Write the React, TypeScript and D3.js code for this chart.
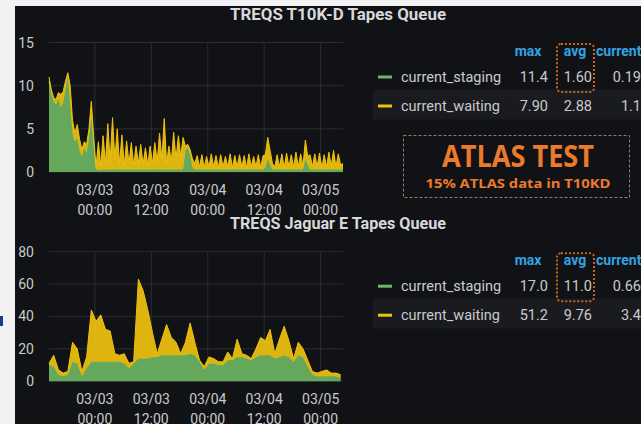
import React from 'react';
import * as d3 from 'd3';

// T10K-D queue, 30 minute samples from 03/02 14:15
const t10kStaging = [
  10.5, 9.0, 8.2, 7.8, 8.5, 7.5, 8.0, 9.5, 11.2, 8.0, 4.5, 3.5, 4.0, 2.5, 1.8, 2.8, 2.2, 4.0, 6.5, 3.0, 0.3,
  0.3, 0.2, 0.3, 0.3, 0.3, 0.3, 0.3, 0.3, 0.3, 0.3, 0.3, 0.3, 0.3, 0.3, 0.3, 0.3, 0.3, 0.3, 0.3, 0.3,
  0.3, 0.3, 0.3, 0.3, 0.3, 0.3, 0.3, 0.3, 0.3, 0.3, 0.3, 0.3, 0.3, 0.3, 0.3, 0.3, 0.3,
  2.5, 2.8, 2.0, 0.5, 0.3,
  0.3, 0.3, 0.3, 0.3, 0.3, 0.3, 0.3, 0.3, 0.3, 0.3, 0.3, 0.3, 0.3, 0.3, 0.3, 0.3, 0.3, 0.3, 0.3, 0.3,
  0.3, 0.3, 0.3, 0.3, 0.3, 0.3, 0.3, 0.3, 0.3,
  0.5, 1.5, 0.8, 0.3,
  0.3, 0.3, 0.3, 0.3, 0.3, 0.3, 0.3, 0.3, 0.3, 0.3, 0.3, 0.3, 0.3,
  1.5, 0.8,
  0.3, 0.3, 0.3, 0.3, 0.3, 0.3, 0.3, 0.3, 0.3, 0.3, 0.3, 0.3, 0.3, 0.3, 0.3,
];
const t10kWaiting = [
  0.5, 0.5, 0.4, 0.6, 0.7, 1.5, 1.3, 1.0, 0.3, 2.0, 1.5, 1.0, 1.5, 1.3, 0.8, 0.7, 1.0, 1.0, 1.7, 1.0, 0.3,
  3.2, 0.5, 3.9, 0.7, 5.3, 0.9, 6.0, 1.2, 4.7, 0.7, 4.0, 0.5, 3.3, 0.7, 3.1, 0.5, 2.7, 0.7, 2.9, 0.6,
  2.5, 0.5, 2.7, 0.7, 3.1, 0.9, 4.2, 1.2, 5.9, 0.7, 2.7, 0.9, 4.3, 1.2, 3.9, 1.5, 3.7,
  0.5, 0.4, 0.6, 1.0, 0.7,
  1.6, 0.3, 1.7, 0.2, 1.5, 0.3, 1.8, 0.3, 1.6, 0.2, 1.7, 0.3, 1.5, 0.3, 1.8, 0.2, 1.6, 0.3, 1.7, 0.3,
  1.6, 0.2, 1.8, 0.3, 1.5, 0.3, 1.7, 0.2, 1.6,
  1.5, 2.5, 1.7, 0.7,
  0.3, 1.7, 0.3, 1.8, 0.2, 1.9, 0.3, 1.7, 0.3, 2.0, 0.3, 1.8, 0.4,
  2.2, 1.0,
  1.7, 0.3, 1.8, 0.3, 1.9, 0.2, 1.7, 0.3, 2.0, 0.4, 2.2, 0.3, 1.8, 0.5, 0.7,
];

// Jaguar E queue, hourly samples from 03/02 14:15
const jaguarStaging = [
  10, 9, 4, 3, 4, 12, 11, 3, 8, 12, 12, 12, 12, 12, 12, 12, 11, 8, 11, 14,
  14, 14, 15, 15, 16, 16, 16, 16, 16, 16, 17, 16, 12, 7, 11, 11, 10, 10, 13, 13,
  15, 15, 14, 13, 15, 16, 16, 16, 14, 15, 16, 15, 12, 16, 15, 9, 4, 3, 3, 3,
  3, 3, 2,
];
const jaguarWaiting = [
  1, 7, 3, 2, 2, 12, 9, 3, 7, 32, 25, 29, 20, 19, 5, 4, 6, 3, 1, 49,
  42, 30, 15, 2, 10, 19, 11, 8, 1, 8, 19, 8, 1, 2, 4, 3, 2, 2, 5, 1,
  11, 2, 2, 1, 5, 11, 9, 16, 3, 11, 18, 10, 2, 8, 5, 4, 2, 2, 3, 4,
  2, 2, 2,
];

const tickTimes = ['2021-03-03T00:00', '2021-03-03T12:00', '2021-03-04T00:00', '2021-03-04T12:00', '2021-03-05T00:00'];
const t10kTicks = [0, 5, 10, 15];
const jaguarTicks = [0, 20, 40, 60, 80];

const t10kLegend = [
  { name: 'current_staging', max: '11.4', avg: '1.60', current: '0.19' },
  { name: 'current_waiting', max: '7.90', avg: '2.88', current: '1.1' },
];
const jaguarLegend = [
  { name: 'current_staging', max: '17.0', avg: '11.0', current: '0.66' },
  { name: 'current_waiting', max: '51.2', avg: '9.76', current: '3.4' },
];

const GREEN = '#6db562';
const YELLOW = '#f0c20e';
const TEXT = '#c9cacc';
const GRID = '#2b2d31';
const start = new Date('2021-03-02T14:15');
const end = new Date('2021-03-05T04:45');

function Panel({ title, top, staging, waiting, stepMin, yMax, ticks, legend }: any) {
  const x = d3.scaleTime().domain([start, end]).range([49, 343]);
  const y = d3.scaleLinear().domain([0, yMax]).range([top + 129.5, top]);
  const rows = staging.map((s: number, i: number) => ({
    t: new Date(start.getTime() + i * stepMin * 60000),
    staging: s,
    waiting: waiting[i],
  }));
  const stack = d3.stack<any>().keys(['staging', 'waiting'])(rows);
  const area = d3.area<any>()
    .x((d) => x(d.data.t))
    .y0((d) => y(d[0]))
    .y1((d) => y(d[1]));
  const line = d3.line<any>()
    .x((d) => x(d.data.t))
    .y((d) => y(d[1]));
  const colors = [GREEN, YELLOW];
  const fmtDay = d3.timeFormat('%m/%d');
  const fmtHour = d3.timeFormat('%H:%M');
  const base = y(0);

  return (
    <g>
      <text x={338} y={top - 23} textAnchor="middle" fill="#d8d9da" fontSize={16} fontWeight={700}
        textLength={216} lengthAdjust="spacingAndGlyphs">
        {title}
      </text>
      {ticks.map((v: number) => (
        <g key={v}>
          <line x1={49} x2={343} y1={y(v)} y2={y(v)} stroke={GRID} />
          <text x={34} y={y(v)} dy="0.36em" textAnchor="end" fill={TEXT} fontSize={14}>{v}</text>
        </g>
      ))}
      {tickTimes.map((s) => {
        const d = new Date(s);
        return (
          <g key={s}>
            <line x1={x(d)} x2={x(d)} y1={top} y2={base} stroke={GRID} />
            <text x={x(d)} y={base + 23} textAnchor="middle" fill={TEXT} fontSize={14}>{fmtDay(d)}</text>
            <text x={x(d)} y={base + 43} textAnchor="middle" fill={TEXT} fontSize={14}>{fmtHour(d)}</text>
          </g>
        );
      })}
      {stack.map((layer, k) => (
        <g key={layer.key}>
          <path d={area(layer) || ''} fill={colors[k]} fillOpacity={0.92} />
          <path d={line(layer) || ''} fill="none" stroke={colors[k]} strokeWidth={1} />
        </g>
      ))}
      {/* legend table */}
      <rect x={373} y={top + 47} width={268} height={30} fill="#1a1b1f" />
      <text x={528} y={top + 13} textAnchor="middle" fill="#33a2e5" fontSize={14} fontWeight={700}>max</text>
      <text x={575} y={top + 13} textAnchor="middle" fill="#33a2e5" fontSize={14} fontWeight={700}>avg</text>
      <text x={596} y={top + 13} fill="#33a2e5" fontSize={14} fontWeight={700}>current</text>
      {legend.map((r: any, i: number) => {
        const ry = top + 39 + i * 29;
        return (
          <g key={r.name}>
            <rect x={378} y={ry - 6} width={14} height={3} fill={colors[i]} />
            <text x={401} y={ry} fill={TEXT} fontSize={14.5}>{r.name}</text>
            <text x={548} y={ry} textAnchor="end" fill={TEXT} fontSize={14.5}>{r.max}</text>
            <text x={592} y={ry} textAnchor="end" fill={TEXT} fontSize={14.5}>{r.avg}</text>
            <text x={641} y={ry} textAnchor="end" fill={TEXT} fontSize={14.5}>{r.current}</text>
          </g>
        );
      })}
      <rect x={557} y={top + 1.5} width={37} height={48} rx={4} fill="none" stroke="#c7661f"
        strokeWidth={2} strokeDasharray="2,2" />
    </g>
  );
}

export default function App() {
  return (
    <svg width={641} height={424} style={{ position: 'absolute', left: 0, top: 0 }}
      fontFamily="Roboto, 'Noto Sans', sans-serif">
      <rect width={641} height={424} fill="#f2f2f2" />
      <rect x={15} y={6} width={626} height={418} fill="#111215" />
      <rect x={0} y={316} width={3} height={10} fill="#1e3c8c" />
      <Panel title="TREQS T10K-D Tapes Queue" top={42.5} staging={t10kStaging} waiting={t10kWaiting}
        stepMin={30} yMax={15} ticks={t10kTicks} legend={t10kLegend} />
      <Panel title="TREQS Jaguar E Tapes Queue" top={251.7} staging={jaguarStaging} waiting={jaguarWaiting}
        stepMin={60} yMax={80} ticks={jaguarTicks} legend={jaguarLegend} />
      <rect x={403.5} y={135.5} width={226} height={62} fill="none" stroke="#9c7a5a"
        strokeWidth={1} strokeDasharray="3,2" />
      <text x={518} y={167} textAnchor="middle" fill="#ec7a2c" fontSize={30} fontWeight={700}
        fontFamily="'Open Sans', sans-serif" textLength={152} lengthAdjust="spacingAndGlyphs">ATLAS TEST</text>
      <text x={518} y={188} textAnchor="middle" fill="#ec7a2c" fontSize={13} fontWeight={700}
        fontFamily="'Open Sans', sans-serif" textLength={185} lengthAdjust="spacingAndGlyphs">15% ATLAS data in T10KD</text>
    </svg>
  );
}
